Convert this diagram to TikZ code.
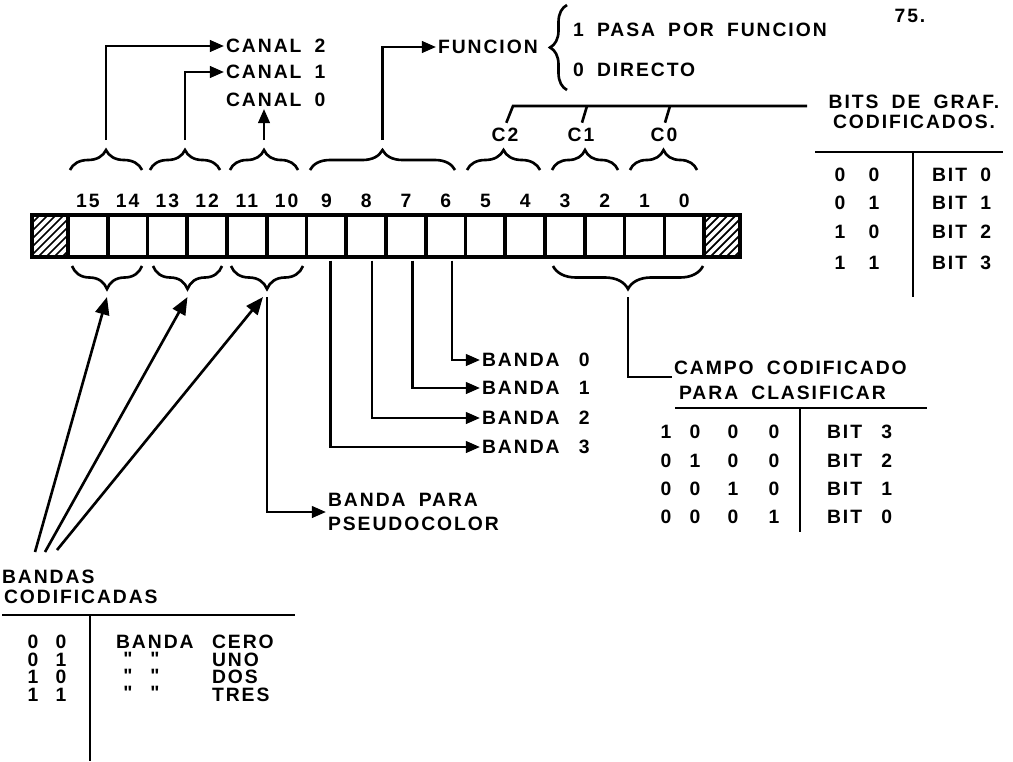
\documentclass[tikz,border=0pt]{standalone}
\usepackage{fontspec}
\newfontfamily\stencil{Liberation Sans}[LetterSpace=10, WordSpace=1.8]
\usetikzlibrary{
    arrows.meta,
    positioning,
    calc,
    decorations.pathreplacing
}
\tikzset{
  lbl/.style   = {font=\stencil\bfseries\fontsize{11}{12}\selectfont, inner sep=1pt},
  lblw/.style  = {lbl, anchor=west},
  ln/.style    = {line width=1.5pt},
  arr/.style   = {-{Triangle[length=8pt,width=6.5pt]}, line width=1.5pt},
  arrb/.style  = {-{Triangle[length=10pt,width=8pt]}, line width=1.5pt},
  braceup/.style = {decorate, decoration={brace, amplitude=0.4cm}, line width=1.5pt},
  bracedn/.style = {decorate, decoration={brace, amplitude=0.46cm}, line width=1.5pt},
  cell/.style  = {draw, line width=2pt, minimum width=0.795cm,
                  minimum height=0.84cm, inner sep=0pt, outer sep=0pt}
}

\begin{document}
\begin{tikzpicture}[x=0.02cm, y=-0.02cm]
\useasboundingbox (0,0) rectangle (1013,761);

% register of 16 bits
\foreach \b [count=\i from 0] in {15,...,0}{
  \node[cell] (r\b) at ({68+39.75*(\i+0.5)},236) {};
  \node[lbl, above=3pt of r\b] (n\b) {\b};
}
\foreach \hx in {32,704}{
  \begin{scope}
    \clip (\hx,215) rectangle ++(36,42);
    \foreach \k in {-42,-34,...,42}
      \draw[line width=1pt] (\hx+\k,257) -- ++(42,-42);
  \end{scope}
}
\draw[line width=2.6pt] (32,215) rectangle (740,257);

% braces above
\foreach \nm/\xa/\xb in {1514/70/142, 1312/150/220, 1110/230/298, 96/310/455,
                         c2/467/540, c1/552/618, c0/630/697}{
  \draw[braceup] (\xa,170) -- (\xb,170);
  \coordinate (up\nm) at ({(\xa+\xb)/2},149);
}
% braces below
\foreach \nm/\xa/\xb in {1514/72/142, 1312/153/222, 1110/231/303, 30/553/703}{
  \draw[bracedn] (\xb,266) -- (\xa,266);
  \coordinate (dn\nm) at ({(\xa+\xb)/2},297);
}

% channels
\node[lblw] (canal2) at (224,46) {CANAL 2};
\node[lblw] (canal1) at (224,72) {CANAL 1};
\node[lblw] (canal0) at (224,100) {CANAL 0};
\draw[arr, shorten <=5pt] (up1514) |- (canal2.west);
\draw[arr, shorten <=5pt] (up1312) |- (canal1.west);
\draw[arr, shorten <=5pt] (up1110) -- (up1110 |- canal0.south);

% function
\node[lblw] (funcion) at (436,47) {FUNCION};
\draw[arr, shorten <=5pt] (up96) |- (funcion.west);
\draw[decorate, decoration={brace, amplitude=0.34cm}, line width=1.5pt] (567,90) -- (567,5);
\node[lblw] (pasa) at (571,30) {1 PASA POR FUNCION};
\node[lblw] (directo) at (571,70) {0 DIRECTO};
\node[lbl] (pagina) at (910,16) {75.};

% graphic bits
\node[lbl] (c2) at (505,135) {C2};
\node[lbl] (c1) at (581,135) {C1};
\node[lbl] (c0) at (664,135) {C0};
\node[lbl, align=center] (bits) at (914,112) {BITS DE GRAF.\\[-1pt]CODIFICADOS.};
\coordinate (gline) at (513,106);
\draw[ln, shorten <=2pt] (c2.north) -- (gline) -- (807,106);
\draw[ln, shorten <=2pt] (c1.north) -- ($(c1.north |- gline)+(6,0)$);
\draw[ln, shorten <=2pt] (c0.north) -- ($(c0.north |- gline)+(6,0)$);
\draw[ln] (815,152) -- (1003,152);
\draw[ln] (913,152) -- (913,297);
\foreach \y/\p/\q/\r in {175/0/0/0, 203/0/1/1, 232/1/0/2, 263/1/1/3}{
  \node[lbl] (ga\r) at (840,\y) {\p};
  \node[lbl] (gb\r) at (874,\y) {\q};
  \node[lblw] (gt\r) at (930,\y) {BIT \r};
}

% bands
\node[lblw] (banda0) at (480,360) {BANDA\quad0};
\node[lblw] (banda1) at (480,388) {BANDA\quad1};
\node[lblw] (banda2) at (480,418) {BANDA\quad2};
\node[lblw] (banda3) at (480,447) {BANDA\quad3};
\draw[arr, shorten <=2pt] ([xshift=0.13cm]r6.south) |- (banda0.west);
\draw[arr, shorten <=2pt] ([xshift=0.13cm]r7.south) |- (banda1.west);
\draw[arr, shorten <=2pt] ([xshift=0.12cm]r8.south) |- (banda2.west);
\draw[arr, shorten <=2pt] ([xshift=0.08cm]r9.south) |- (banda3.west);

% pseudocolor
\node[lblw, align=left] (pseudo) at (326,512) {BANDA PARA\\[1.5pt]PSEUDOCOLOR};
\draw[arr] (dn1110) |- (pseudo.west);

% coded field
\node[lblw] (campo) at (672,368) {CAMPO CODIFICADO};
\node[lblw] (clasif) at (677,393) {PARA CLASIFICAR};
\draw[ln] (dn30) |- (campo.south west);
\draw[ln] (675,408) -- (927,408);
\draw[ln] (800,408) -- (800,532);
\foreach \y/\p/\q/\s/\t/\r in {432/1/0/0/0/3, 461/0/1/0/0/2, 489/0/0/1/0/1, 517/0/0/0/1/0}{
  \node[lbl] (ka\r) at (666,\y) {\p};
  \node[lbl] (kb\r) at (695,\y) {\q};
  \node[lbl] (kc\r) at (733,\y) {\s};
  \node[lbl] (kd\r) at (774,\y) {\t};
  \node[lblw] (kt\r) at (825,\y) {BIT\quad\r};
}

% coded bands
\node[lblw] (bandas) at (0,577) {BANDAS};
\node[lblw] (codif) at (2,597) {CODIFICADAS};
\coordinate (tl1) at (35,552);
\coordinate (tl2) at (45,552);
\coordinate (tl3) at (57,550);
\draw[arrb] (tl1) -- (dn1514);
\draw[arrb] (tl2) -- (dn1312);
\draw[arrb] (tl3) -- ([xshift=-0.08cm]dn1110);
\draw[ln] (2,615) -- (295,615);
\draw[ln] (90,615) -- (90,761);
\foreach \y/\p/\q/\w [count=\j] in {642/0/0/CERO, 660/0/1/UNO, 677/1/0/DOS, 695/1/1/TRES}{
  \node[lbl] (ba\j) at (33,\y) {\p};
  \node[lbl] (bb\j) at (61,\y) {\q};
  \node[lblw] (bw\j) at (210,\y) {\w};
}
\node[lblw] (bcero) at (114,642) {BANDA};
\foreach \j in {2,3,4}{
  \node[lbl] (da\j) at (128,{625+17*\j}) {"};
  \node[lbl] (db\j) at (155,{625+17*\j}) {"};
}
\end{tikzpicture}
\end{document}
